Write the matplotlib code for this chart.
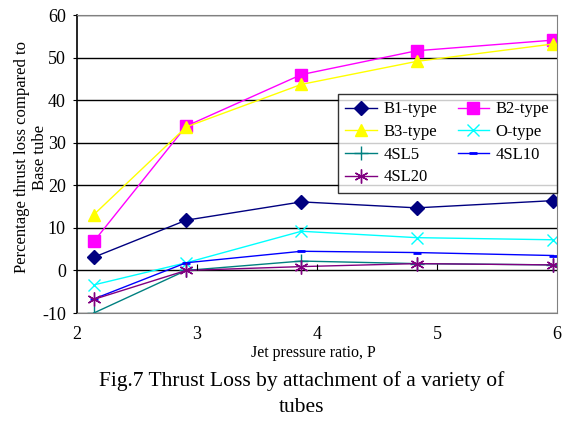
import numpy as np
import matplotlib.pyplot as plt

plt.rcParams['font.family'] = ['Liberation Serif', 'DejaVu Serif']
plt.rcParams['axes.unicode_minus'] = False

# jet pressure ratio at each measured point
P = [2.14, 2.91, 3.87, 4.83, 5.97]

# percentage thrust loss compared to base tube
B1 = [3.1, 11.8, 16.1, 14.7, 16.4]
B2 = [6.8, 33.9, 46.0, 51.6, 54.1]
B3 = [13.1, 33.7, 43.7, 49.1, 53.2]
O_type = [-3.4, 1.8, 9.2, 7.7, 7.2]
SL5 = [-10.0, 0.0, 2.2, 1.6, 1.3]
SL10 = [-6.7, 1.8, 4.5, 4.2, 3.5]
SL20 = [-6.8, 0.0, 0.9, 1.6, 1.3]

fig = plt.figure(figsize=(5.68, 4.21), dpi=100)
ax = fig.add_axes([77/568, 1 - 313/421, 480/568, 298/421])

l1, = ax.plot(P, B1, color='#000080', marker='D', ms=7, lw=1, label='B1-type')
l2, = ax.plot(P, B2, color='#FF00FF', marker='s', ms=8, lw=1, label='B2-type')
l3, = ax.plot(P, B3, color='#FFFF00', marker='^', ms=9, lw=1, label='B3-type')
l4, = ax.plot(P, O_type, color='#00FFFF', marker='x', ms=8, mew=1, lw=1, label='O-type')
l5, = ax.plot(P, SL5, color='#008080', marker='+', ms=10, mew=1, lw=1, label='4SL5')
l6, = ax.plot(P, SL10, color='#0000FF', marker='_', ms=6, mew=2, lw=1, label='4SL10')
l7, = ax.plot(P, SL20, color='#800080', marker=(6, 2, 0), ms=10, mew=1, lw=1, label='4SL20')

ax.set_xlim(2, 6)
ax.set_ylim(-10, 60)
ax.set_xticks([2, 3, 4, 5, 6])
ax.set_yticks(np.arange(-10, 61, 10))
ax.yaxis.grid(True, color='black', lw=1)
ax.set_axisbelow(True)
ax.tick_params(axis='y', direction='out', length=3, labelsize=13, pad=5)
ax.tick_params(axis='x', length=0, labelsize=13, pad=9.5)

for s in ['top', 'right', 'bottom']:
    ax.spines[s].set_color('#808080')
ax.spines['left'].set_color('black')
ax.spines['left'].set_linewidth(1.2)

# x axis crosses at zero: small tick marks on the zero line
ax2 = ax.twiny()
ax2.set_xlim(2, 6)
ax2.spines['top'].set_position(('data', 0))
for s in ['top', 'bottom', 'left', 'right']:
    ax2.spines[s].set_visible(False)
ax2.set_xticks([3, 4, 5])
ax2.tick_params(axis='x', direction='out', length=4, labeltop=False, color='black')

ax.set_xlabel('Jet pressure ratio, P', fontsize=11.5, va='center')
ax.xaxis.set_label_coords(0.492, -0.134)
ax.set_ylabel('Percentage thrust loss compared to\nBase tube', fontsize=12,
              va='center', linespacing=1.1)
ax.yaxis.set_label_coords(-0.096, 0.523)

# row-wise order in a two column legend
handles = [l1, l3, l5, l7, l2, l4, l6]
leg = ax.legend(handles=handles, ncol=2, loc='upper right',
                bbox_to_anchor=(1.0, 0.735), borderaxespad=0,
                fontsize=12, frameon=True, fancybox=False, edgecolor='black',
                borderpad=0.45, handlelength=1.9, labelspacing=0.4,
                columnspacing=1.2, handletextpad=0.4)
leg.get_frame().set_linewidth(1)

fig.text(302/568, 1 - 381/421, 'Fig.7 Thrust Loss by attachment of a variety of',
         ha='center', va='center', fontsize=15.5)
fig.text(302/568, 1 - 407/421, 'tubes', ha='center', va='center', fontsize=15.5)

fig.savefig('out.png', dpi=100)
